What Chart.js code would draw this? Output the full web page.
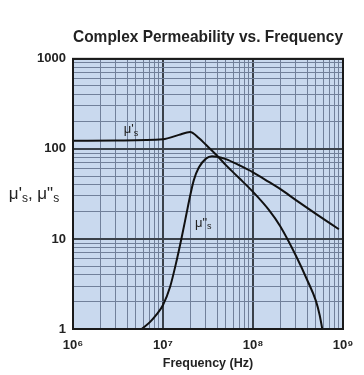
<!DOCTYPE html>
<html>
<head>
<meta charset="utf-8">
<script src="https://cdn.jsdelivr.net/npm/chart.js@4"></script>
<style>
  html, body { margin: 0; padding: 0; background: #fff; }
  #wrap { width: 364px; height: 375px; }
</style>
</head>
<body>
<div id="wrap"><canvas id="chart" width="364" height="375"></canvas></div>
<script>
// frequency (Hz) and values
const freqMuP = [1e6, 3e6, 1e7, 1.5e7, 2e7, 2.5e7, 3e7, 4e7, 5e7, 7e7, 1e8, 1.5e8, 2e8, 3e8, 4e8, 5e8, 5.5e8, 6e8];
const muP     = [123, 124, 128, 143, 154, 132, 111, 84, 66, 47.5, 33.3, 21, 13.9, 6.5, 3.5, 2.05, 1.43, 0.9];

const freqMuPP = [5.8e6, 7.2e6, 8.5e6, 1e7, 1.2e7, 1.42e7, 1.61e7, 1.83e7, 2e7, 2.2e7, 2.5e7, 3e7, 3.5e7, 4e7, 5e7, 7e7, 1e8, 1.5e8, 2e8, 3e8, 5e8, 9e8];
const muPP     = [1, 1.2, 1.45, 1.85, 2.95, 5.8, 10.3, 19.4, 30, 45, 62, 78, 83, 82, 77, 66, 55, 43, 36, 27, 19, 12.8];

const xDecades = [1e6, 1e7, 1e8, 1e9];
const xLabels  = ['10\u2076', '10\u2077', '10\u2078', '10\u2079'];
const yDecades = [1, 10, 100, 1000];
const yLabels  = ['1', '10', '100', '1000'];

const FONT = '"Liberation Sans", Arial, Helvetica, sans-serif';
const INK = '#222';

function logTicks(decades) {
    const out = [];
    for (let i = 0; i < decades.length - 1; i++) {
        for (let m = 1; m < 10; m++) out.push(decades[i] * m);
    }
    out.push(decades[decades.length - 1]);
    return out;
}

function isDecade(v, decades) {
    return decades.some(d => Math.abs(v - d) / d < 1e-6);
}

function gridColor(decades) {
    return ctx => isDecade(ctx.tick.value, decades) ? '#3a4149' : '#71809a';
}
function gridWidth(decades) {
    return ctx => isDecade(ctx.tick.value, decades) ? 2 : 1;
}

// draw text pieces, some as small subscript "s"
function drawRich(ctx, parts, cx, cy, size, weight) {
    const subSize = Math.round(size * 0.7);
    let w = 0;
    parts.forEach(p => {
        ctx.font = `${weight} ${p.sub ? subSize : size}px ${FONT}`;
        p.w = ctx.measureText(p.t).width;
        w += p.w;
    });
    let x = cx - w / 2;
    ctx.textBaseline = 'middle';
    ctx.textAlign = 'left';
    parts.forEach(p => {
        ctx.font = `${weight} ${p.sub ? subSize : size}px ${FONT}`;
        ctx.fillText(p.t, x, p.sub ? cy + size * 0.3 : cy);
        x += p.w;
    });
}

const plotDecor = {
    id: 'plotDecor',
    beforeDraw(chart) {
        const { ctx, chartArea: a } = chart;
        ctx.save();
        ctx.fillStyle = '#c9d9ee';
        ctx.fillRect(a.left, a.top, a.right - a.left, a.bottom - a.top);
        ctx.restore();
    },
    afterDatasetsDraw(chart) {
        const { ctx, chartArea: a, scales } = chart;
        ctx.save();
        ctx.strokeStyle = '#1a1a1a';
        ctx.lineWidth = 2;
        ctx.strokeRect(a.left, a.top, a.right - a.left, a.bottom - a.top);

        ctx.fillStyle = INK;
        // curve labels
        drawRich(ctx, [{ t: 'μ\'' }, { t: 's', sub: true }],
            scales.x.getPixelForValue(4.4e6), scales.y.getPixelForValue(163), 13, 'normal');
        drawRich(ctx, [{ t: 'μ"' }, { t: 's', sub: true }],
            scales.x.getPixelForValue(2.8e7), scales.y.getPixelForValue(15), 13, 'normal');
        // y axis title, horizontal
        drawRich(ctx, [{ t: 'μ\'' }, { t: 's', sub: true }, { t: ', μ"' }, { t: 's', sub: true }],
            34, (a.top + a.bottom) / 2, 17, 'normal');
        ctx.restore();
    }
};

new Chart(document.getElementById('chart'), {
    type: 'line',
    data: {
        datasets: [
            {
                label: "μ's",
                data: freqMuP.map((f, i) => ({ x: f, y: muP[i] })),
                borderColor: '#111',
                borderWidth: 2,
                pointRadius: 0,
                cubicInterpolationMode: 'monotone',
                fill: false
            },
            {
                label: 'μ"s',
                data: freqMuPP.map((f, i) => ({ x: f, y: muPP[i] })),
                borderColor: '#111',
                borderWidth: 2,
                pointRadius: 0,
                cubicInterpolationMode: 'monotone',
                fill: false
            }
        ]
    },
    options: {
        responsive: false,
        animation: false,
        layout: { padding: { left: 0, right: 21, top: 0, bottom: 0 } },
        plugins: {
            legend: { display: false },
            tooltip: { enabled: false },
            title: {
                display: true,
                fullSize: false,
                text: 'Complex Permeability vs. Frequency',
                color: INK,
                font: { family: FONT, size: 15.7, weight: 'bold' },
                padding: { top: 28, bottom: 12 }
            }
        },
        scales: {
            x: {
                type: 'logarithmic',
                min: 1e6,
                max: 1e9,
                afterBuildTicks: s => { s.ticks = logTicks(xDecades).map(v => ({ value: v })); },
                afterFit: s => { s.height = 46; },
                grid: { color: gridColor(xDecades), lineWidth: gridWidth(xDecades), drawTicks: false },
                border: { display: false },
                ticks: {
                    autoSkip: false,
                    maxRotation: 0,
                    padding: 9,
                    color: INK,
                    font: { family: FONT, size: 13, weight: 'bold' },
                    callback: v => {
                        const i = xDecades.findIndex(d => Math.abs(v - d) / d < 1e-6);
                        return i >= 0 ? xLabels[i] : '';
                    }
                },
                title: {
                    display: true,
                    text: 'Frequency (Hz)',
                    color: INK,
                    font: { family: FONT, size: 12.5, weight: 'bold' },
                    padding: { top: 0, bottom: 4 }
                }
            },
            y: {
                type: 'logarithmic',
                min: 1,
                max: 1000,
                afterBuildTicks: s => { s.ticks = logTicks(yDecades).map(v => ({ value: v })); },
                afterFit: s => { s.width = 73; },
                grid: { color: gridColor(yDecades), lineWidth: gridWidth(yDecades), drawTicks: false },
                border: { display: false },
                ticks: {
                    autoSkip: false,
                    padding: 7,
                    color: INK,
                    font: { family: FONT, size: 13, weight: 'bold' },
                    callback: v => {
                        const i = yDecades.findIndex(d => Math.abs(v - d) / d < 1e-6);
                        return i >= 0 ? yLabels[i] : '';
                    }
                }
            }
        }
    },
    plugins: [plotDecor]
});
</script>
</body>
</html>
